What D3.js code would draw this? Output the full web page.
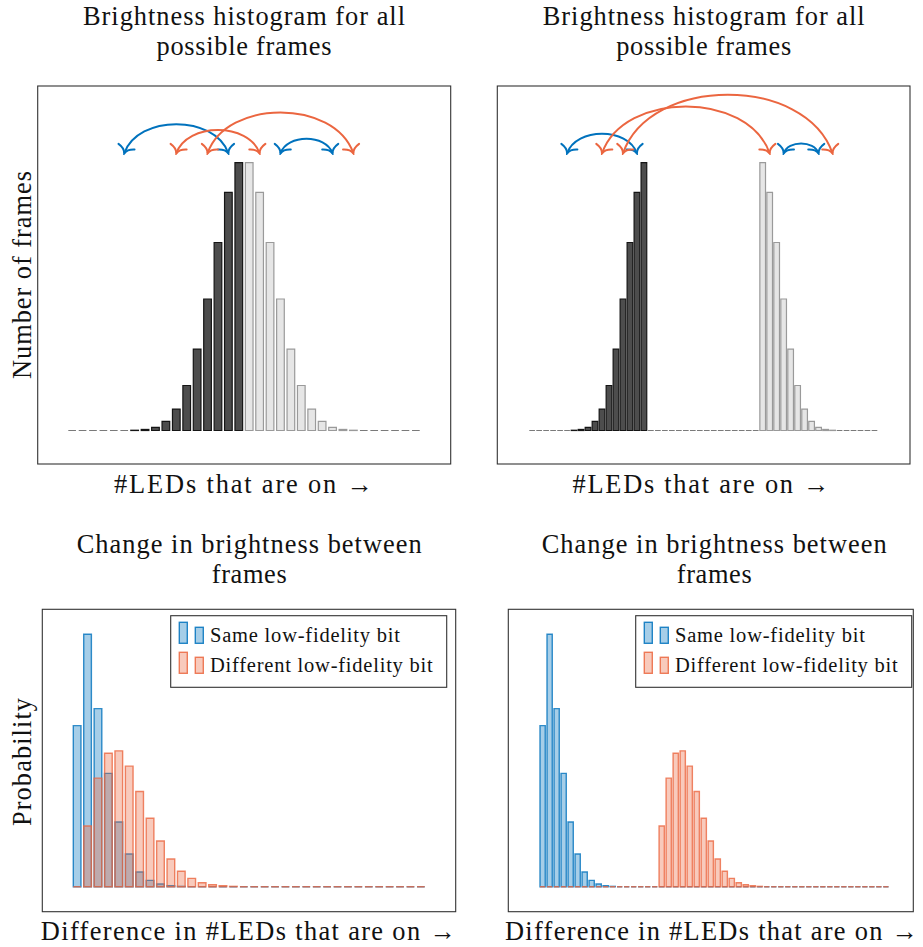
<!DOCTYPE html>
<html>
<head>
<meta charset="utf-8">
<script src="https://cdn.jsdelivr.net/npm/d3@7"></script>
<style>
  body { margin: 0; background: #fff; }
  svg { display: block; }
  text { font-family: "Liberation Serif", "DejaVu Serif", "Noto Serif", serif; fill: #111; }
</style>
</head>
<body>
<svg id="chart" width="923" height="947"></svg>
<script>
// ---------------------------------------------------------------
// Data
// ---------------------------------------------------------------

// Number of frames per brightness level (#LEDs on). The first 17 slots
// carry low-fidelity bit 0 (dark), the remaining slots bit 1 (light).
const histContiguous = [0, 0, 0, 0, 0, 0, 1, 4, 12, 34, 80, 168, 304, 491, 702, 889, 1000,
                        1000, 889, 702, 491, 304, 168, 80, 34, 12, 4, 1, 0, 0, 0, 0, 0, 0];
const histSplit = [0, 0, 0, 0, 0, 0, 1, 4, 12, 34, 80, 168, 304, 491, 702, 889, 1000,
                   0, 0, 0, 0, 0, 0, 0, 0, 0, 0, 0, 0, 0, 0, 0, 0,
                   1000, 889, 702, 491, 304, 168, 80, 34, 12, 4, 1, 0, 0, 0, 0, 0, 0];
const darkSlots = 17;

// Transitions between brightness levels (slot indices)
const arcsContiguous = [
  { from: 5, to: 15, kind: "same" },
  { from: 20, to: 25, kind: "same" },
  { from: 10, to: 18, kind: "diff" },
  { from: 13, to: 27, kind: "diff" }
];
const arcsSplit = [
  { from: 5, to: 15, kind: "same" },
  { from: 36, to: 41, kind: "same" },
  { from: 10, to: 34, kind: "diff" },
  { from: 13, to: 43, kind: "diff" }
];

// Probability of a brightness change of k LEDs between two frames
const sameContiguous = [0.1947, 0.3051, 0.2152, 0.1370, 0.0782, 0.0395, 0.0177, 0.0077, 0.0032, 0.0012, 0.0004,
                        0, 0, 0, 0, 0, 0, 0, 0, 0, 0, 0, 0, 0, 0, 0, 0, 0, 0, 0, 0, 0, 0, 0];
const diffContiguous = [0, 0.0734, 0.1312, 0.1614, 0.1642, 0.1457, 0.1150, 0.0827, 0.0553, 0.0335, 0.0186,
                        0.0101, 0.0048, 0.0024, 0.0012, 0.0004, 0, 0, 0, 0, 0, 0, 0, 0, 0, 0, 0, 0, 0, 0, 0, 0, 0, 0];
const sameSplit = [0.1947, 0.3051, 0.2152, 0.1370, 0.0782, 0.0395, 0.0177, 0.0077, 0.0032, 0.0012, 0.0004,
                   0, 0, 0, 0, 0, 0, 0, 0, 0, 0, 0, 0, 0, 0, 0, 0, 0, 0, 0, 0, 0, 0, 0, 0, 0, 0, 0, 0, 0,
                   0, 0, 0, 0, 0, 0, 0, 0, 0, 0];
const diffSplit = [0, 0, 0, 0, 0, 0, 0, 0, 0, 0, 0, 0, 0, 0, 0, 0, 0,
                   0.0734, 0.1312, 0.1614, 0.1642, 0.1457, 0.1150, 0.0827, 0.0553, 0.0335, 0.0186,
                   0.0101, 0.0048, 0.0024, 0.0012, 0.0004, 0, 0, 0, 0, 0, 0, 0, 0, 0, 0, 0, 0, 0, 0, 0, 0, 0, 0, 0, 0];

const histTitle = ["Brightness histogram for all", "possible frames"];
const diffTitle = ["Change in brightness between", "frames"];
const histXLabel = "#LEDs that are on \u2192";
const diffXLabel = "Difference in #LEDs that are on \u2192";
const histYLabel = "Number of frames";
const diffYLabel = "Probability";
const legendLabels = ["Same low-fidelity bit", "Different low-fidelity bit"];

// ---------------------------------------------------------------
// Styling
// ---------------------------------------------------------------
const BLUE = "#0072BD";
const ORANGE = "#EB6640";

const svg = d3.select("#chart");

const defs = svg.append("defs");
[["tip-same", BLUE], ["tip-diff", ORANGE]].forEach(([id, c]) => {
  defs.append("marker")
    .attr("id", id)
    .attr("markerUnits", "userSpaceOnUse")
    .attr("viewBox", "-10 -11 12 22")
    .attr("refX", 0).attr("refY", 0)
    .attr("markerWidth", 12).attr("markerHeight", 22)
    .attr("orient", "auto-start-reverse")
    .append("path")
    .attr("d", "M-7,-8.5 C-5.5,-3.5 -2.5,-0.8 0,0 C-2.5,0.8 -5.5,3.5 -7,8.5")
    .attr("fill", "none")
    .attr("stroke", c)
    .attr("stroke-width", 2)
    .attr("stroke-linecap", "round");
});

function barPath(x, w, y0, y1) {
  const p = d3.path();
  p.moveTo(x, y0);
  p.lineTo(x, y1);
  p.lineTo(x + w, y1);
  p.lineTo(x + w, y0);
  p.closePath();
  return p.toString();
}

function addText(str, x, y, size, len, rotate) {
  const t = svg.append("text")
    .attr("text-anchor", "middle")
    .attr("font-size", size)
    .attr("textLength", len)
    .attr("lengthAdjust", "spacing")
    .text(str);
  if (rotate) t.attr("transform", `translate(${x},${y}) rotate(-90)`);
  else t.attr("x", x).attr("y", y);
  return t;
}

function drawFrame(f) {
  svg.append("rect")
    .attr("x", f.x).attr("y", f.y).attr("width", f.w).attr("height", f.h)
    .attr("fill", "none").attr("stroke", "#333").attr("stroke-width", 1.1);
}

// ---------------------------------------------------------------
// Brightness histograms (top row)
// ---------------------------------------------------------------
function drawHistogram(L, counts, arcs) {
  const g = svg.append("g");
  const x = d3.scaleBand().domain(d3.range(counts.length))
    .range([L.x0, L.x1]).paddingInner(L.pad).paddingOuter(0);
  const y = d3.scaleLinear().domain([0, d3.max(counts)]).range([L.base, L.top]);
  const bw = x.bandwidth();

  g.selectAll("path.bar")
    .data(counts)
    .join("path")
    .attr("class", "bar")
    .attr("d", (d, i) => barPath(x(i), bw, y(0), y(d)))
    .attr("fill", (d, i) => i < darkSlots ? "#4d4d4d" : "#e6e6e6")
    .attr("stroke", (d, i) => d === 0 ? "#7a7a7a" : (i < darkSlots ? "#151515" : "#9a9a9a"))
    .attr("stroke-width", 1.2);

  // transition arcs: blue first, orange on top
  const ordered = arcs.filter(a => a.kind === "same").concat(arcs.filter(a => a.kind === "diff"));
  g.selectAll("path.arc")
    .data(ordered)
    .join("path")
    .attr("class", "arc")
    .attr("d", a => {
      const x1 = x(a.from) + bw / 2, x2 = x(a.to) + bw / 2;
      const d = x2 - x1, h = 0.373 * d, c = 0.13 * d;
      const p = d3.path();
      p.moveTo(x1, L.arcY);
      p.bezierCurveTo(x1 + c, L.arcY - h, x2 - c, L.arcY - h, x2, L.arcY);
      return p.toString();
    })
    .attr("fill", "none")
    .attr("stroke", a => a.kind === "same" ? BLUE : ORANGE)
    .attr("stroke-width", 2)
    .attr("marker-start", a => `url(#tip-${a.kind})`)
    .attr("marker-end", a => `url(#tip-${a.kind})`);

  drawFrame(L.frame);
}

// ---------------------------------------------------------------
// Brightness-change distributions (bottom row)
// ---------------------------------------------------------------
function drawDiff(L, same, diff) {
  const g = svg.append("g");
  const x = d3.scaleBand().domain(d3.range(same.length))
    .range([L.x0, L.x1]).paddingInner(L.pad).paddingOuter(0);
  const y = d3.scaleLinear().domain([0, d3.max(same.concat(diff))]).range([L.base, L.top]);
  const bw = x.bandwidth();

  [[same, BLUE], [diff, ORANGE]].forEach(([vals, c]) => {
    g.append("g").selectAll("path")
      .data(vals)
      .join("path")
      .attr("d", (d, i) => barPath(x(i), bw, y(0), y(d)))
      .attr("fill", c).attr("fill-opacity", 0.35)
      .attr("stroke", c).attr("stroke-opacity", 0.8)
      .attr("stroke-width", 1.4);
  });

  drawFrame(L.frame);

  // legend
  const lg = svg.append("g").attr("transform", `translate(${L.legend.x},${L.legend.y})`);
  lg.append("rect").attr("width", 276).attr("height", 71.6)
    .attr("fill", "#fff").attr("stroke", "#333").attr("stroke-width", 1.1);
  [[BLUE, 0], [ORANGE, 30]].forEach(([c, dy], k) => {
    [[8.6, 6.6], [24.6, 11.6]].forEach(([bx, by]) => {
      lg.append("rect")
        .attr("x", bx).attr("y", by + dy).attr("width", 8).attr("height", 27.6 - by)
        .attr("fill", c).attr("fill-opacity", 0.35)
        .attr("stroke", c).attr("stroke-opacity", 0.85).attr("stroke-width", 1.4);
    });
    lg.append("text")
      .attr("x", 39.3).attr("y", 26 + dy)
      .attr("font-size", 20.5)
      .attr("textLength", k === 0 ? 190 : 222.7)
      .attr("lengthAdjust", "spacing")
      .text(legendLabels[k]);
  });
}

// ---------------------------------------------------------------
// Panels
// ---------------------------------------------------------------
drawHistogram({
  frame: { x: 37.7, y: 86, w: 413, h: 378 },
  x0: 68.3, x1: 419.7, pad: 0.264, base: 430.5, top: 162.7, arcY: 153.3
}, histContiguous, arcsContiguous);

drawHistogram({
  frame: { x: 497.3, y: 86, w: 412.7, h: 378 },
  x0: 529.3, x1: 877.3, pad: 0.19, base: 430.5, top: 162.7, arcY: 153.3
}, histSplit, arcsSplit);

drawDiff({
  frame: { x: 42.3, y: 609.3, w: 413.4, h: 302.4 },
  x0: 73.3, x1: 424.7, pad: 0.264, base: 886.7, top: 634.3,
  legend: { x: 170.7, y: 615.7 }
}, sameContiguous, diffContiguous);

drawDiff({
  frame: { x: 508.3, y: 609.3, w: 405, h: 302.4 },
  x0: 540, x1: 888.5, pad: 0.25, base: 886.7, top: 634.3,
  legend: { x: 635.7, y: 615.7 }
}, sameSplit, diffSplit);

// ---------------------------------------------------------------
// Titles and axis labels
// ---------------------------------------------------------------
[244, 703.7].forEach(cx => {
  addText(histTitle[0], cx, 25, 26.4, 322);
  addText(histTitle[1], cx, 54.5, 26.4, 175);
});
addText(histXLabel, 243.5, 493.3, 26.4, 259);
addText(histXLabel, 701, 493.3, 26.4, 257);

[[249.2], [714.2]].forEach(([cx]) => {
  addText(diffTitle[0], cx, 553.3, 26.4, 345);
  addText(diffTitle[1], cx, 582.7, 26.4, 75);
});
addText(diffXLabel, 248.3, 940, 26.4, 415);
addText(diffXLabel, 711.5, 940, 26.4, 413);

addText(histYLabel, 30.5, 275, 26.4, 208, true);
addText(diffYLabel, 30.5, 762, 26.4, 128, true);
</script>
</body>
</html>
